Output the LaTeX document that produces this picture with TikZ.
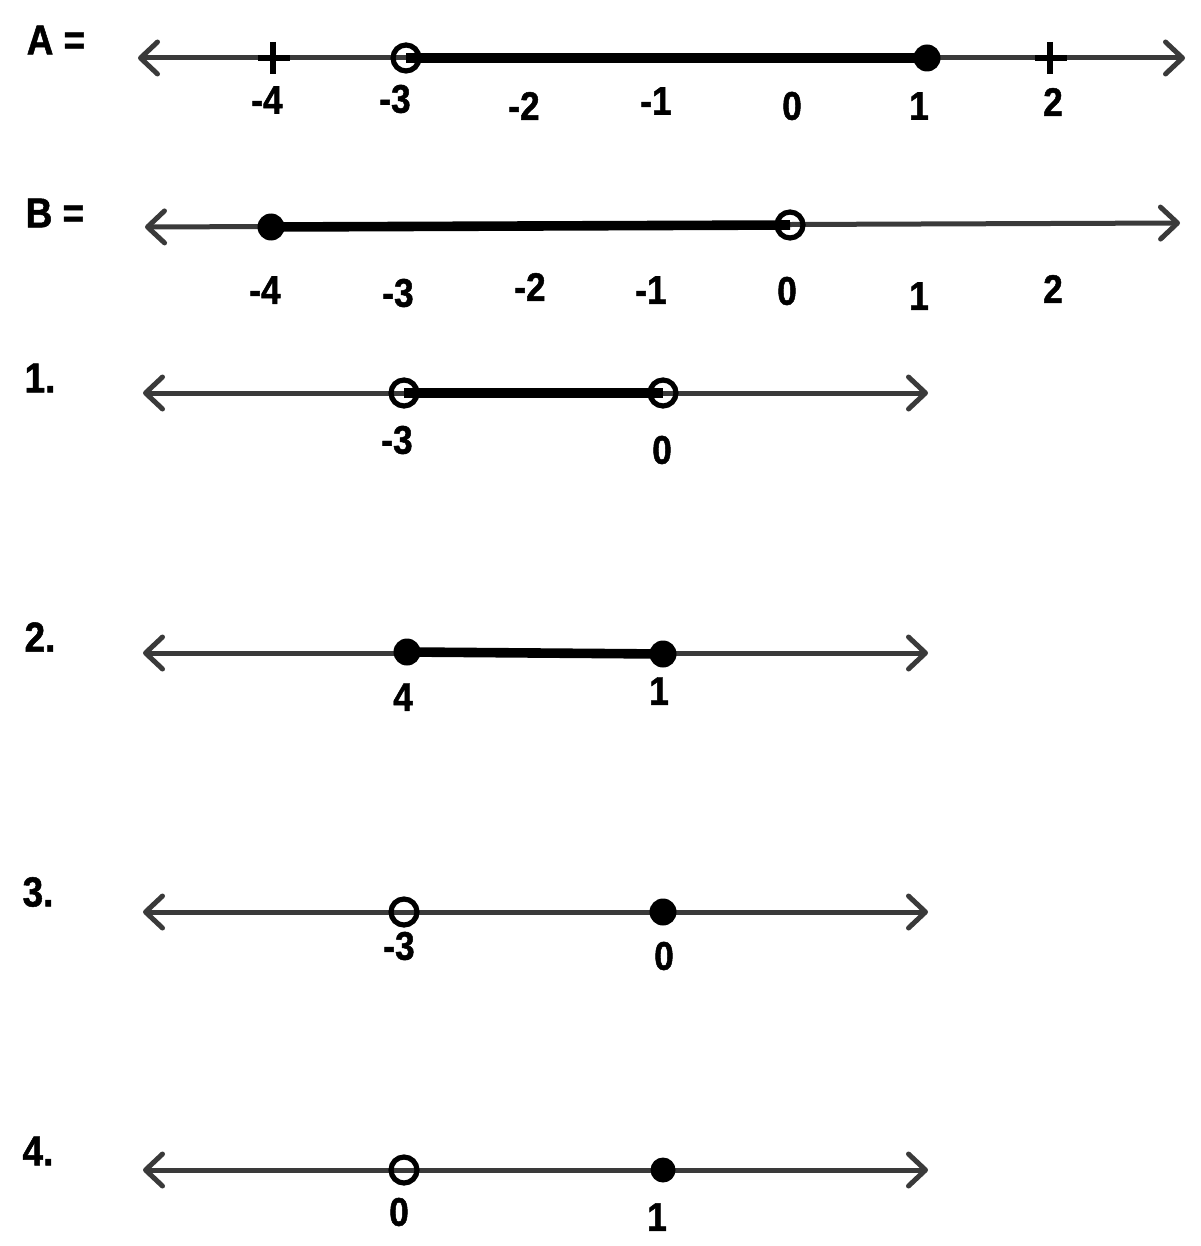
\documentclass[tikz,border=0pt]{standalone}
\usepackage{fontspec}
\setmainfont{Liberation Sans}[FakeStretch=0.88,BoldFeatures={FakeBold=1.2}]
\usetikzlibrary{arrows.meta}
\definecolor{axisgray}{HTML}{3A3A3A}
\begin{document}
\begin{tikzpicture}[x=0.5pt,y=-0.5pt,
  axisline/.style={draw=axisgray,line width=2.5pt,
    {Straight Barb[length=8.5pt,width=16pt,line width=2.5pt,round]}-{Straight Barb[length=8.5pt,width=16pt,line width=2.5pt,round]}},
  seg/.style={draw=black,line width=4.8pt},
  opendot/.style={circle,draw=black,line width=2.6pt,minimum size=13pt,inner sep=0pt},
  filldot/.style={circle,fill=black,minimum size=13.5pt,inner sep=0pt},
  num/.style={font=\bfseries\fontsize{20}{20}\selectfont,inner sep=0pt},
  lbl/.style={font=\bfseries\fontsize{21}{21}\selectfont,inner sep=0pt},
  tickv/.style={draw=black,line width=2.6pt},
  tickh/.style={draw=black,line width=3.2pt}]
\useasboundingbox (0,0) rectangle (1200,1246);

% ---------- A ----------
\node[lbl] (labA) at (56,40) {A =};
\coordinate (aL) at (138,58);
\coordinate (aR) at (1185,58);
\draw[axisline] (aL) -- (aR);
\coordinate (t1a) at (273,42); \coordinate (t1b) at (273,74);
\coordinate (t1c) at (258,58); \coordinate (t1d) at (290,58);
\draw[tickh] (t1c) -- (t1d); \draw[tickv] (t1a) -- (t1b);
\coordinate (t2a) at (1050,42); \coordinate (t2b) at (1050,74);
\coordinate (t2c) at (1035,58); \coordinate (t2d) at (1067,58);
\draw[tickh] (t2c) -- (t2d); \draw[tickv] (t2a) -- (t2b);
\coordinate (a3) at (406,58);
\coordinate (a1) at (927,58);
\draw[seg] (a3) -- (a1);
\node[opendot] (oa3) at (a3) {};
\node[filldot] (fa1) at (a1) {};
\node[num] (na1) at (267,100) {-4};
\node[num] (na2) at (395,99) {-3};
\node[num] (na3) at (524,106) {-2};
\node[num] (na4) at (656,101) {-1};
\node[num] (na5) at (792,106) {0};
\node[num] (na6) at (919,106) {1};
\node[num] (na7) at (1053,102) {2};

% ---------- B ----------
\node[lbl] (labB) at (55,213) {B =};
\coordinate (bL) at (145,227);
\coordinate (bR) at (1180,223);
\draw[axisline] (bL) -- (bR);
\coordinate (b4) at (271,227);
\coordinate (b0) at (790,225);
\draw[seg] (b4) -- (b0);
\node[filldot] (fb4) at (b4) {};
\node[opendot] (ob0) at (b0) {};
\node[num] (nb1) at (265,290) {-4};
\node[num] (nb2) at (398,293) {-3};
\node[num] (nb3) at (530,287) {-2};
\node[num] (nb4) at (651,290) {-1};
\node[num] (nb5) at (787,291) {0};
\node[num] (nb6) at (919,296) {1};
\node[num] (nb7) at (1053,289) {2};

% ---------- 1 ----------
\node[lbl] (lab1) at (40,378) {1.};
\coordinate (pL) at (143,393);
\coordinate (pR) at (928,393);
\draw[axisline] (pL) -- (pR);
\coordinate (p3) at (404,393);
\coordinate (p0) at (663,393);
\draw[seg] (p3) -- (p0);
\node[opendot] (op3) at (p3) {};
\node[opendot] (op0) at (p0) {};
\node[num] (np1) at (397,440) {-3};
\node[num] (np2) at (662,450) {0};

% ---------- 2 ----------
\node[lbl] (lab2) at (40,637) {2.};
\coordinate (qL) at (143,653);
\coordinate (qR) at (928,653);
\draw[axisline] (qL) -- (qR);
\coordinate (q4) at (407,652);
\coordinate (q1) at (663,654);
\draw[seg] (q4) -- (q1);
\node[filldot] (fq4) at (q4) {};
\node[filldot] (fq1) at (q1) {};
\node[num] (nq1) at (403,697) {4};
\node[num] (nq2) at (659,691) {1};

% ---------- 3 ----------
\node[lbl] (lab3) at (38,892) {3.};
\coordinate (rL) at (143,912);
\coordinate (rR) at (928,912);
\draw[axisline] (rL) -- (rR);
\node[opendot] (or3) at (404,912) {};
\node[filldot] (fr0) at (663,912) {};
\node[num] (nr1) at (399,946) {-3};
\node[num] (nr2) at (664,956) {0};

% ---------- 4 ----------
\node[lbl] (lab4) at (38,1151) {4.};
\coordinate (sL) at (143,1170);
\coordinate (sR) at (928,1170);
\draw[axisline] (sL) -- (sR);
\node[opendot] (os0) at (404,1170) {};
\node[filldot,minimum size=12.5pt] (fs1) at (663,1170) {};
\node[num] (ns1) at (399,1212) {0};
\node[num] (ns2) at (657,1217) {1};
\end{tikzpicture}
\end{document}
